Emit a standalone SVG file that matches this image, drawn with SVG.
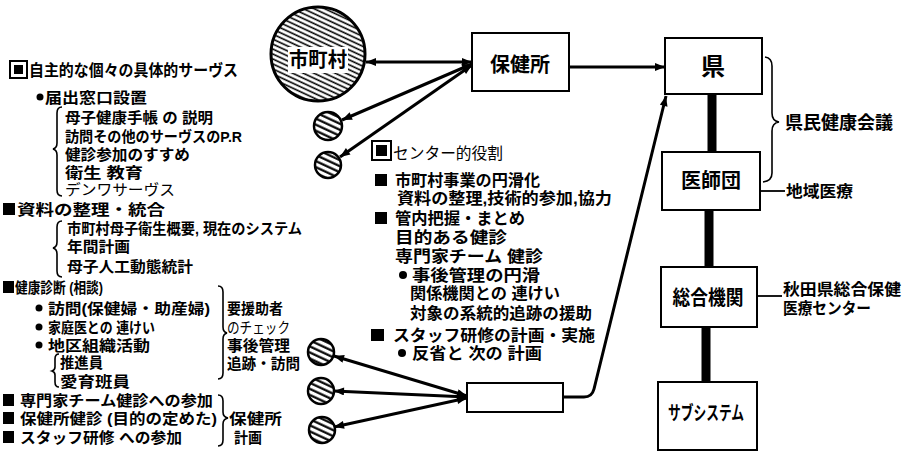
<svg xmlns="http://www.w3.org/2000/svg" width="909" height="451" viewBox="0 0 909 451">
<style>
.t{font-family:"Liberation Sans","Noto Sans CJK JP","Noto Sans CJK SC",sans-serif;font-weight:bold;font-size:15px;fill:#000}
.m{font-size:16px}
.h{font-weight:normal}
.box{fill:#fff;stroke:#000;stroke-width:2}
.c{fill:none;stroke:#000;stroke-width:3}
.thick{stroke:#000;stroke-width:9}
.br{fill:none;stroke:#000;stroke-width:1.6}
.lbl{font-size:20px}
</style>
<defs>
<pattern id="hatch" width="4.5" height="4.5" patternUnits="userSpaceOnUse" patternTransform="rotate(25)">
<rect width="4.5" height="4.5" fill="#fff"/>
<line x1="0" y1="1.2" x2="4.5" y2="1.2" stroke="#000" stroke-width="1.6"/>
</pattern>
<pattern id="hatch2" width="5.5" height="5.5" patternUnits="userSpaceOnUse" patternTransform="rotate(25)">
<rect width="5.5" height="5.5" fill="#fff"/>
<line x1="0" y1="1.5" x2="5.5" y2="1.5" stroke="#000" stroke-width="2.2"/>
</pattern>
<marker id="ah" viewBox="0 0 10 8" refX="10" refY="4" markerWidth="11" markerHeight="8" markerUnits="userSpaceOnUse" orient="auto-start-reverse">
<path d="M0,0 L10,4 L0,8 z" fill="#000"/>
</marker>
</defs>
<rect width="909" height="451" fill="#fff"/>

<g id="connectors">
<line class="c" x1="366" y1="62" x2="472" y2="62" marker-start="url(#ah)" marker-end="url(#ah)"/>
<line class="c" x1="342" y1="120" x2="472" y2="64" marker-start="url(#ah)" marker-end="url(#ah)"/>
<line class="c" x1="340" y1="157" x2="472" y2="65" marker-start="url(#ah)" marker-end="url(#ah)"/>
<line class="c" x1="569" y1="67" x2="665" y2="67" marker-end="url(#ah)"/>
<line class="c" x1="334" y1="356" x2="467" y2="396" marker-start="url(#ah)" marker-end="url(#ah)"/>
<line class="c" x1="334" y1="391" x2="467" y2="397" marker-start="url(#ah)" marker-end="url(#ah)"/>
<line class="c" x1="334" y1="427" x2="467" y2="398" marker-start="url(#ah)" marker-end="url(#ah)"/>
<path class="c" d="M563,397 L584,397 Q592,397 594,389 L666,96" marker-end="url(#ah)"/>
<line class="thick" x1="712" y1="94" x2="712" y2="152"/>
<line class="thick" x1="709" y1="210" x2="709" y2="267"/>
<line class="thick" x1="706" y1="327" x2="706" y2="382"/>
<path class="br" d="M765,57 Q772,58 772,66 L772,113 Q772,121 779,122 Q772,123 772,131 L772,173 Q772,181 763,182"/>
<line stroke="#000" stroke-width="1.8" x1="760" y1="191" x2="785" y2="191"/>
<line stroke="#000" stroke-width="1.8" x1="757" y1="296" x2="782" y2="296"/>
</g>

<g id="shichoson">
<circle cx="318" cy="54" r="47" fill="url(#hatch)" stroke="#000" stroke-width="3"/>
<rect x="288" y="47" width="60" height="26" fill="#fff"/>
<text class="t lbl" x="318" y="67" text-anchor="middle" textLength="58" lengthAdjust="spacingAndGlyphs">市町村</text>
</g>
<g id="small1"><circle cx="328" cy="126" r="14" fill="url(#hatch2)" stroke="#000" stroke-width="2.5"/></g>
<g id="small2"><circle cx="328" cy="165" r="13" fill="url(#hatch2)" stroke="#000" stroke-width="2.5"/></g>
<g id="small3"><circle cx="321" cy="352" r="13" fill="url(#hatch2)" stroke="#000" stroke-width="2.5"/></g>
<g id="small4"><circle cx="321" cy="391" r="13" fill="url(#hatch2)" stroke="#000" stroke-width="2.5"/></g>
<g id="small5"><circle cx="322" cy="430" r="13" fill="url(#hatch2)" stroke="#000" stroke-width="2.5"/></g>

<g id="hokenjo">
<rect class="box" x="472" y="33" width="97" height="58"/>
<text class="t lbl" x="520" y="72" text-anchor="middle" textLength="60" lengthAdjust="spacingAndGlyphs">保健所</text>
</g>
<g id="hokenjo-sub">
<rect class="box" x="467" y="383" width="96" height="29"/>
</g>
<g id="ken">
<rect class="box" x="665" y="38" width="97" height="56"/>
<text class="t" style="font-size:24px" x="713" y="75" text-anchor="middle">県</text>
</g>
<g id="ishidan">
<rect class="box" x="662" y="152" width="98" height="58"/>
<text class="t lbl" x="711" y="188" text-anchor="middle" textLength="60" lengthAdjust="spacingAndGlyphs">医師団</text>
</g>
<g id="sogokikan">
<rect class="box" x="661" y="267" width="96" height="60"/>
<text class="t lbl" x="708" y="305" text-anchor="middle" textLength="71" lengthAdjust="spacingAndGlyphs">総合機関</text>
</g>
<g id="subsystem">
<rect class="box" x="658" y="382" width="99" height="68"/>
<text class="t" style="font-size:19px" x="706" y="420" text-anchor="middle" textLength="76" lengthAdjust="spacingAndGlyphs">サブシステム</text>
</g>

<g id="right-labels">
<text class="t" style="font-size:18px" x="785" y="129" textLength="108" lengthAdjust="spacingAndGlyphs">県民健康会議</text>
<text class="t" style="font-size:16px" x="786" y="197" textLength="67" lengthAdjust="spacingAndGlyphs">地域医療</text>
<text class="t" style="font-size:16px" x="783" y="295" textLength="118" lengthAdjust="spacingAndGlyphs">秋田県総合保健</text>
<text class="t" style="font-size:16px" x="783" y="314" textLength="88" lengthAdjust="spacingAndGlyphs">医療センター</text>
</g>

<g id="center-role">
<rect x="372" y="141" width="19" height="19" fill="#fff" stroke="#000" stroke-width="2"/>
<rect x="376" y="145" width="11" height="11" fill="#000"/>
<text class="t m h" x="393" y="159" textLength="110" lengthAdjust="spacingAndGlyphs">センター的役割</text>
<rect x="375" y="174" width="12" height="12" fill="#000"/>
<text class="t m" x="395" y="186" textLength="145" lengthAdjust="spacingAndGlyphs">市町村事業の円滑化</text>
<text class="t m" x="397" y="204" textLength="215" lengthAdjust="spacingAndGlyphs">資料の整理,技術的参加,協力</text>
<rect x="375" y="212" width="12" height="12" fill="#000"/>
<text class="t m" x="395" y="224" textLength="130" lengthAdjust="spacingAndGlyphs">管内把握・まとめ</text>
<text class="t m" x="395" y="243" textLength="112" lengthAdjust="spacingAndGlyphs">目的ある健診</text>
<text class="t m" x="395" y="262" textLength="148" lengthAdjust="spacingAndGlyphs">専門家チーム 健診</text>
<circle cx="403" cy="275" r="4"/>
<text class="t m" x="412" y="281" textLength="128" lengthAdjust="spacingAndGlyphs">事後管理の円滑</text>
<text class="t m" x="410" y="299" textLength="150" lengthAdjust="spacingAndGlyphs">関係機関との 連けい</text>
<text class="t m" x="410" y="319" textLength="182" lengthAdjust="spacingAndGlyphs">対象の系統的追跡の援助</text>
<rect x="371" y="329" width="13" height="12" fill="#000"/>
<text class="t m" x="393" y="341" textLength="202" lengthAdjust="spacingAndGlyphs">スタッフ研修の計画・実施</text>
<circle cx="402" cy="353" r="4"/>
<text class="t m" x="412" y="359" textLength="130" lengthAdjust="spacingAndGlyphs">反省と 次の 計画</text>
</g>

<g id="left-services">
<rect x="10" y="61" width="17" height="17" fill="#fff" stroke="#000" stroke-width="2"/>
<rect x="14" y="65" width="9" height="9" fill="#000"/>
<text class="t" style="font-size:16px" x="29" y="76" textLength="209" lengthAdjust="spacingAndGlyphs">自主的な個々の具体的サーヴス</text>
<circle cx="40" cy="97" r="3.5"/>
<text class="t" x="45" y="103" textLength="102" lengthAdjust="spacingAndGlyphs">届出窓口設置</text>
<path class="br" d="M62,107 Q57,107 57,113 L57,143 Q57,148 53,149 Q57,150 57,155 L57,190 Q57,196 62,196"/>
<text class="t" x="65" y="123" textLength="148" lengthAdjust="spacingAndGlyphs">母子健康手帳 の 説明</text>
<text class="t" x="65" y="142" textLength="177" lengthAdjust="spacingAndGlyphs">訪問その他のサーヴスのP.R</text>
<text class="t" x="65" y="160" textLength="125" lengthAdjust="spacingAndGlyphs">健診参加のすすめ</text>
<text class="t" x="65" y="178" textLength="78" lengthAdjust="spacingAndGlyphs">衛生 教育</text>
<text class="t h" x="65" y="195" textLength="110" lengthAdjust="spacingAndGlyphs">デンワサーヴス</text>

<rect x="3" y="203" width="12" height="12" fill="#000"/>
<text class="t" x="17" y="215" textLength="148" lengthAdjust="spacingAndGlyphs">資料の整理・統合</text>
<path class="br" d="M62,221 Q57,221 57,227 L57,242 Q57,247 53,248 Q57,249 57,254 L57,271 Q57,277 62,277"/>
<text class="t" x="67" y="234" textLength="235" lengthAdjust="spacingAndGlyphs">市町村母子衛生概要, 現在のシステム</text>
<text class="t" x="67" y="252" textLength="63" lengthAdjust="spacingAndGlyphs">年間計画</text>
<text class="t" x="67" y="272" textLength="126" lengthAdjust="spacingAndGlyphs">母子人工動態統計</text>

<rect x="3" y="281" width="11" height="12" fill="#000"/>
<text class="t" x="15" y="293" textLength="88" lengthAdjust="spacingAndGlyphs">健康診断 (相談)</text>
<circle cx="39" cy="308" r="3.5"/>
<text class="t" x="48" y="314" textLength="162" lengthAdjust="spacingAndGlyphs">訪問(保健婦・助産婦)</text>
<circle cx="39" cy="327" r="3.5"/>
<text class="t" x="48" y="333" textLength="107" lengthAdjust="spacingAndGlyphs">家庭医との 連けい</text>
<circle cx="39" cy="345" r="3.5"/>
<text class="t" x="48" y="351" textLength="102" lengthAdjust="spacingAndGlyphs">地区組織活動</text>
<path class="br" d="M59,354 Q55,354 55,359 L55,367 Q55,370 52,371 Q55,372 55,375 L55,382 Q55,387 59,387"/>
<text class="t" x="60" y="368" textLength="43" lengthAdjust="spacingAndGlyphs">推進員</text>
<text class="t" x="60" y="387" textLength="70" lengthAdjust="spacingAndGlyphs">愛育班員</text>
<path class="br" d="M218,286 Q223,286 223,292 L223,327 Q223,332 227,333 Q223,334 223,339 L223,373 Q223,379 218,379"/>
<text class="t" x="227" y="314" textLength="56" lengthAdjust="spacingAndGlyphs">要援助者</text>
<text class="t h" x="227" y="333" textLength="63" lengthAdjust="spacingAndGlyphs">のチェック</text>
<text class="t" x="227" y="351" textLength="63" lengthAdjust="spacingAndGlyphs">事後管理</text>
<text class="t" x="227" y="369" textLength="73" lengthAdjust="spacingAndGlyphs">追跡・訪問</text>

<rect x="3" y="394" width="11" height="12" fill="#000"/>
<text class="t" x="20" y="406" textLength="193" lengthAdjust="spacingAndGlyphs">専門家チーム健診への参加</text>
<rect x="3" y="412" width="11" height="12" fill="#000"/>
<text class="t" x="20" y="424" textLength="197" lengthAdjust="spacingAndGlyphs">保健所健診 (目的の定めた)</text>
<rect x="3" y="431" width="11" height="12" fill="#000"/>
<text class="t" x="20" y="443" textLength="162" lengthAdjust="spacingAndGlyphs">スタッフ研修 への参加</text>
<path class="br" d="M218,395 Q223,395 223,401 L223,412 Q223,417 228,418 Q223,419 223,424 L223,440 Q223,446 218,446"/>
<text class="t" x="229" y="424" textLength="53" lengthAdjust="spacingAndGlyphs">保健所</text>
<text class="t" x="234" y="443" textLength="28" lengthAdjust="spacingAndGlyphs">計画</text>
</g>
</svg>
